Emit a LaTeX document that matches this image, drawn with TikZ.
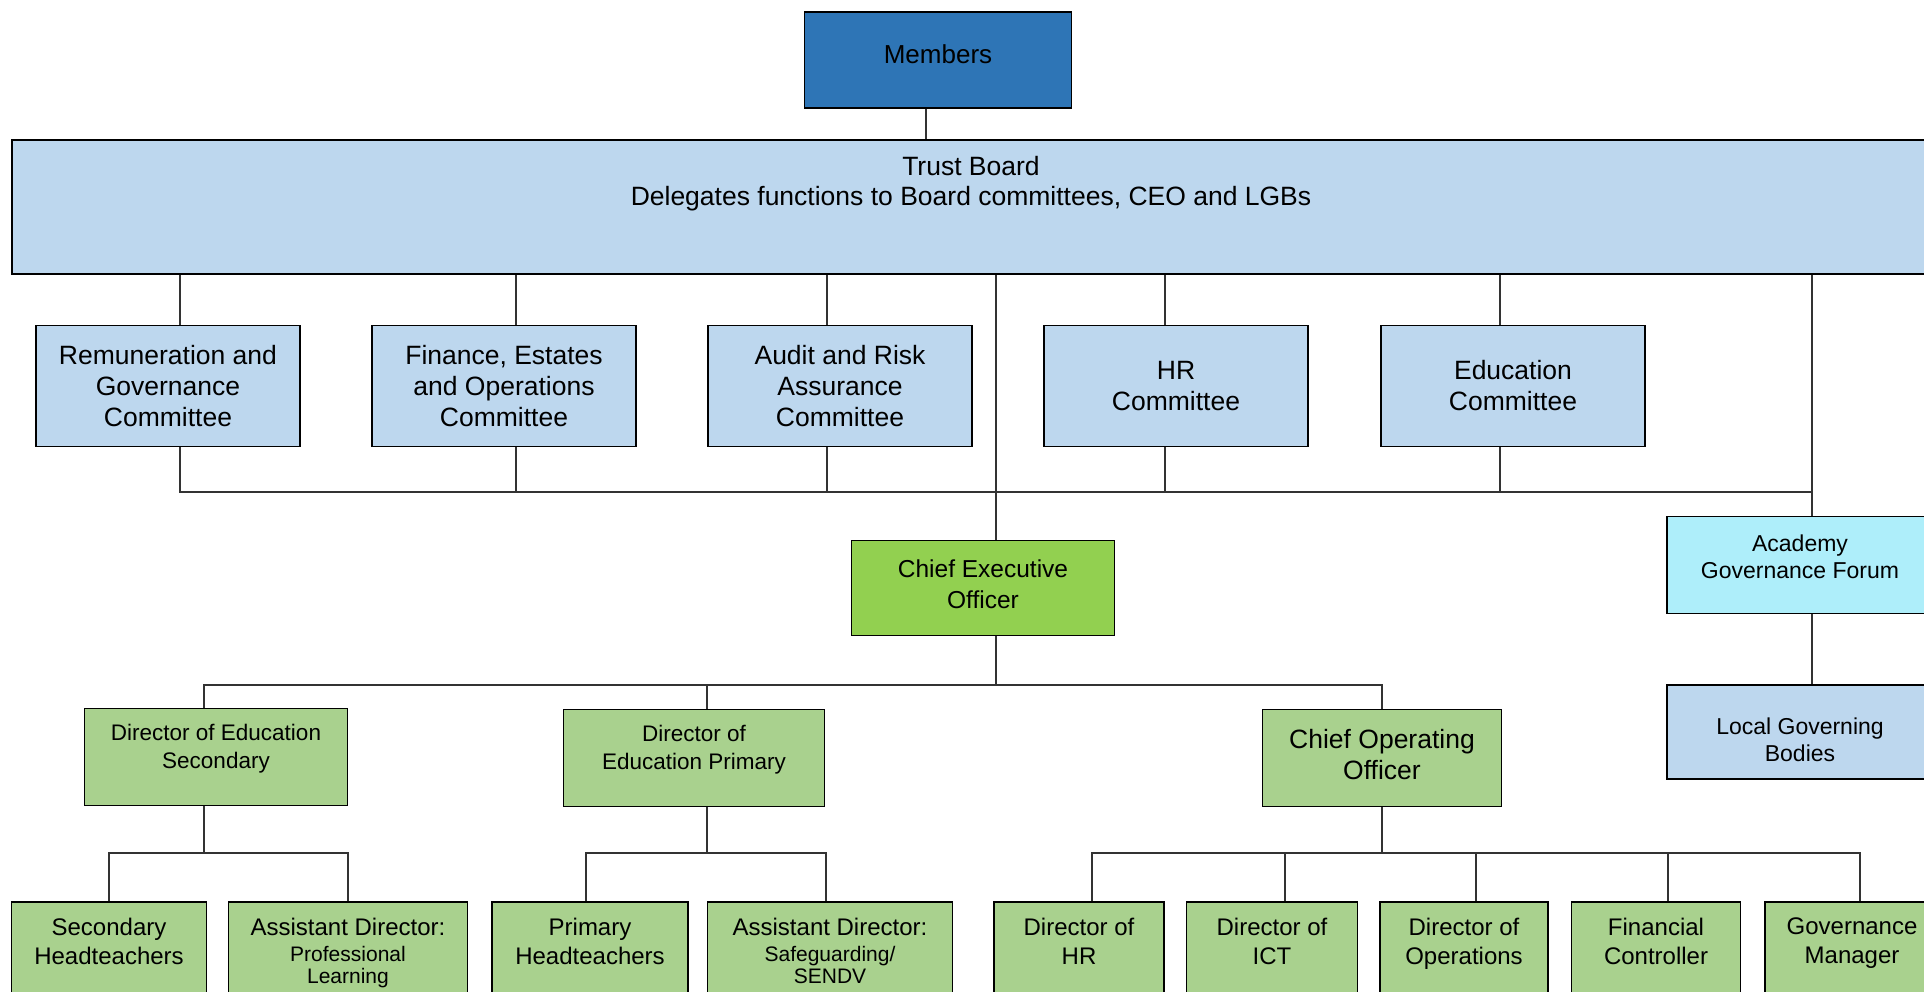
\documentclass[tikz,border=0pt]{standalone}
\usepackage{fontspec}
\setmainfont{Liberation Sans}
\usepackage{tikz}
\definecolor{memblue}{HTML}{2E75B6}
\definecolor{paleblue}{HTML}{BDD7EE}
\definecolor{ceogreen}{HTML}{92D050}
\definecolor{sagegreen}{HTML}{A9D18E}
\definecolor{forumcyan}{HTML}{AEEEFA}

% text hung from the top of a tall box
\newcommand{\toptext}[3]{\parbox[c][#2][t]{#1}{\centering\vspace*{16pt}#3}}

\begin{document}
\begin{tikzpicture}[x=1pt,y=-1pt,
      box/.style={rectangle,draw=black,line width=1.8pt,inner sep=0pt,
                  align=center,fill=paleblue},
      cttbox/.style={box,minimum width=264pt,minimum height=121pt,
                     font=\fontsize{26.5}{31}\selectfont},
      dirbox/.style={box,fill=sagegreen,minimum height=97pt},
      staffbox/.style={box,fill=sagegreen,font=\fontsize{24}{29}\selectfont},
      sidebox/.style={box,minimum width=266pt,font=\fontsize{23}{27}\selectfont},
      link/.style={line width=1.2pt,black!80}
    ]
    \useasboundingbox (0,0) rectangle (1924,992);
    \clip (0,0) rectangle (1924,992);

    % members and board
    \node[box,fill=memblue,minimum width=267pt,minimum height=96pt,
          font=\fontsize{26}{31}\selectfont] (members) at (938,60) {Members\\[-20pt]};
    \node[box,font=\fontsize{26.5}{30}\selectfont] (board) at (971,207)
          {\toptext{1918pt}{134pt}{Trust Board\\Delegates functions to Board committees, CEO and LGBs}};

    % committees
    \node[cttbox] (rem) at ( 168,386) {Remuneration and\\Governance\\Committee};
    \node[cttbox] (fin) at ( 504,386) {Finance, Estates\\and Operations\\Committee};
    \node[cttbox] (aud) at ( 840,386) {Audit and Risk\\Assurance\\Committee};
    \node[cttbox] (hr)  at (1176,386) {HR\\Committee};
    \node[cttbox] (edu) at (1513,386) {Education\\Committee};

    % ceo
    \node[box,fill=ceogreen,minimum width=263pt,minimum height=95pt,
          font=\fontsize{24.5}{31}\selectfont] (ceo) at (983,588) {Chief Executive\\Officer\\[-23pt]};

    % local governance
    \node[sidebox,fill=forumcyan,minimum height=97pt] (agf) at (1800,565) {Academy\\Governance Forum\\[-10pt]};
    \node[sidebox,minimum height=94pt] (lgb) at (1800,732) {\\[5pt]Local Governing\\Bodies};

    % directors
    \node[dirbox,minimum width=263pt,font=\fontsize{22.5}{28}\selectfont] (des) at (216,757)
          {Director of Education\\Secondary\\[-6pt]};
    \node[dirbox,minimum width=261pt,font=\fontsize{22.5}{28}\selectfont] (dep) at (694,758)
          {Director of\\Education Primary\\[-6pt]};
    \node[dirbox,minimum width=239pt,font=\fontsize{26.5}{31}\selectfont] (coo) at (1382,758)
          {Chief Operating\\Officer\\[-23pt]};

    % staff
    \node[staffbox] (shead) at ( 109,962) {\toptext{195pt}{120pt}{Secondary\\Headteachers}};
    \node[staffbox] (adpl)  at ( 348,962) {\toptext{239pt}{120pt}{Assistant Director:\par\vspace{4pt}
          \fontsize{21}{22}\selectfont Professional\\Learning}};
    \node[staffbox] (phead) at ( 590,962) {\toptext{196pt}{120pt}{Primary\\Headteachers}};
    \node[staffbox] (adsg)  at ( 830,962) {\toptext{245pt}{120pt}{Assistant Director:\par\vspace{4pt}
          \fontsize{21}{22}\selectfont Safeguarding/\\SENDV}};
    \node[staffbox] (dhr)   at (1079,962) {\toptext{170pt}{120pt}{Director of\\HR}};
    \node[staffbox] (dict)  at (1272,962) {\toptext{171pt}{120pt}{Director of\\ICT}};
    \node[staffbox] (dops)  at (1464,962) {\toptext{168pt}{120pt}{Director of\\Operations}};
    \node[staffbox] (fc)    at (1656,962) {\toptext{169pt}{120pt}{Financial\\Controller}};
    \node[staffbox] (gov)   at (1852,962) {\toptext{174pt}{120pt}{Governance\\Manager}};

    % bus lines
    \coordinate (cbus) at (0,492);
    \coordinate (dbus) at (0,685);
    \coordinate (sbus) at (0,853);

    % board lines
    \draw[link] ([xshift=-12pt]members.south) -- ([xshift=-12pt]members.south |- board.north);
    \draw[link] ([xshift=12pt]rem.north |- board.south)  -- ([xshift=12pt]rem.north);
    \draw[link] ([xshift=12pt]fin.north |- board.south)  -- ([xshift=12pt]fin.north);
    \draw[link] ([xshift=-13pt]aud.north |- board.south) -- ([xshift=-13pt]aud.north);
    \draw[link] ([xshift=-11pt]hr.north |- board.south)  -- ([xshift=-11pt]hr.north);
    \draw[link] ([xshift=-13pt]edu.north |- board.south) -- ([xshift=-13pt]edu.north);
    \draw[link] ([xshift=13pt]ceo.north |- board.south)  -- ([xshift=13pt]ceo.north);
    \draw[link] ([xshift=12pt]agf.north |- board.south)  -- ([xshift=12pt]agf.north);
    \draw[link] ([xshift=12pt]rem.south) -- ([xshift=12pt]rem.south |- cbus) -- ([xshift=12pt]agf.north |- cbus);
    \draw[link] ([xshift=12pt]fin.south)  -- ([xshift=12pt]fin.south |- cbus);
    \draw[link] ([xshift=-13pt]aud.south) -- ([xshift=-13pt]aud.south |- cbus);
    \draw[link] ([xshift=-11pt]hr.south)  -- ([xshift=-11pt]hr.south |- cbus);
    \draw[link] ([xshift=-13pt]edu.south) -- ([xshift=-13pt]edu.south |- cbus);
    \draw[link] ([xshift=12pt]agf.south)  -- ([xshift=12pt]lgb.north);

    % ceo lines
    \draw[link] ([xshift=13pt]ceo.south) -- ([xshift=13pt]ceo.south |- dbus);
    \draw[link] ([xshift=-12pt]des.north) -- ([xshift=-12pt]des.north |- dbus) -- (coo.north |- dbus) -- (coo.north);
    \draw[link] ([xshift=13pt]dep.north) -- ([xshift=13pt]dep.north |- dbus);

    % staff lines
    \draw[link] ([xshift=-12pt]des.south) -- ([xshift=-12pt]des.south |- sbus);
    \draw[link] (shead.north) -- (shead.north |- sbus) -- (adpl.north |- sbus) -- (adpl.north);
    \draw[link] ([xshift=13pt]dep.south) -- ([xshift=13pt]dep.south |- sbus);
    \draw[link] ([xshift=-4pt]phead.north) -- ([xshift=-4pt]phead.north |- sbus)
                -- ([xshift=-4pt]adsg.north |- sbus) -- ([xshift=-4pt]adsg.north);
    \draw[link] (coo.south) -- (coo.south |- sbus);
    \draw[link] ([xshift=13pt]dhr.north) -- ([xshift=13pt]dhr.north |- sbus)
                -- ([xshift=8pt]gov.north |- sbus) -- ([xshift=8pt]gov.north);
    \draw[link] ([xshift=13pt]dict.north) -- ([xshift=13pt]dict.north |- sbus);
    \draw[link] ([xshift=12pt]dops.north) -- ([xshift=12pt]dops.north |- sbus);
    \draw[link] ([xshift=12pt]fc.north)   -- ([xshift=12pt]fc.north   |- sbus);

  \end{tikzpicture}
\end{document}
